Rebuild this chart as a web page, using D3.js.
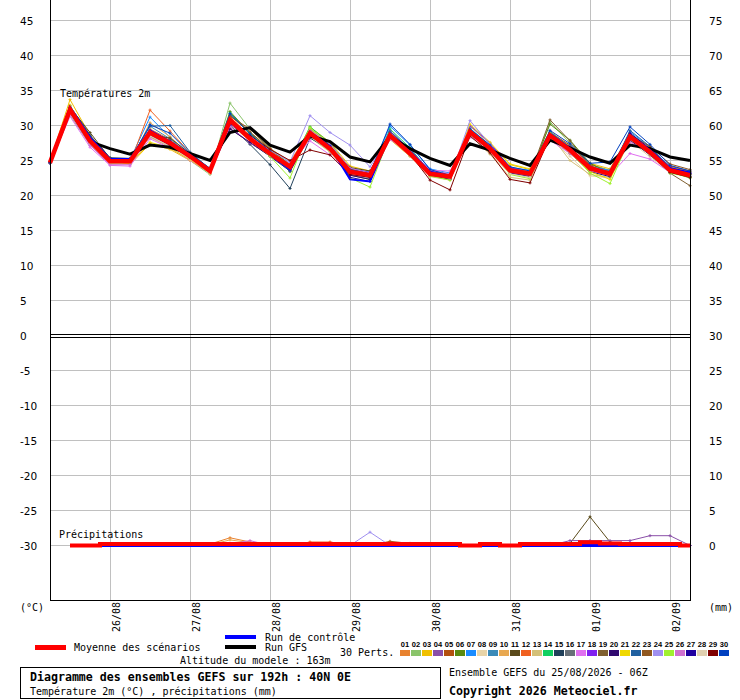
<html>
<head>
    <title>Diagramme des ensembles GEFS - 40N 0E</title>
    <script src="https://d3js.org/d3.v7.min.js"></script>
    <style>
        body {
            margin: 0;
            background-color: white;
        }
        svg {
            display: block;
        }
        text {
            font-family: "DejaVu Sans Mono", monospace;
            font-size: 10px;
            fill: black;
        }
        .ticklabel {
            font-family: "DejaVu Sans", sans-serif;
            font-size: 10.5px;
        }
    </style>
</head>
<body>
    <svg id="chart" width="740" height="700"></svg>

    <script>
        // time steps (hours since 25/08 06Z)
        const hours = [0, 6, 12, 18, 24, 30, 36, 42, 48, 54, 60, 66, 72, 78, 84, 90, 96,
            102, 108, 114, 120, 126, 132, 138, 144, 150, 156, 162, 168, 174, 180, 186, 192];

        const dateLabels = ["26/08", "27/08", "28/08", "29/08", "30/08", "31/08", "01/09", "02/09"];
        const dateHours = [18, 42, 66, 90, 114, 138, 162, 186];

        const leftTicks = [45, 40, 35, 30, 25, 20, 15, 10, 5, 0, -5, -10, -15, -20, -25, -30];
        const rightTicks = [75, 70, 65, 60, 55, 50, 45, 40, 35, 30, 25, 20, 15, 10, 5, 0];

        const pertNames = ["01", "02", "03", "04", "05", "06", "07", "08", "09", "10",
            "11", "12", "13", "14", "15", "16", "17", "18", "19", "20",
            "21", "22", "23", "24", "25", "26", "27", "28", "29", "30"];
        const pertColors = ["#e8822f", "#8ac46a", "#f0c000", "#8a4fa8", "#b3500f", "#5a8a10", "#1a8cff", "#e8d4a8", "#3a8ab8", "#e8a850",
            "#5a4a1a", "#f06020", "#d4c078", "#10d060", "#20405a", "#687078", "#e070f0", "#8020f0", "#806030", "#300870",
            "#f0d800", "#2060a0", "#905820", "#a090f0", "#a0f030", "#d070d0", "#2000a0", "#e0d0b0", "#800000", "#0040c0"];

        // 2m temperature (°C), one row per perturbation
        const pertTemps = [
            [24.7,32.0,28.5,25.2,24.8,29.5,28.0,25.3,23.2,31.2,28.6,26.4,24.3,29.4,27.1,23.8,23.2,28.9,26.3,23.4,22.9,29.3,26.9,23.8,23.4,28.9,26.8,24.2,23.4,28.6,26.5,23.9,23.0],
            [24.6,31.5,27.2,24.6,24.6,28.6,27.0,25.0,23.0,33.2,29.5,26.8,24.6,28.4,26.3,23.0,22.5,28.2,25.7,22.8,22.4,28.8,26.3,23.2,22.6,30.5,27.5,24.5,23.6,28.0,25.8,23.4,22.6],
            [24.8,33.7,28.6,25.1,24.4,27.4,26.6,25.0,23.3,30.2,27.8,25.7,23.8,29.8,27.6,24.2,23.5,28.0,25.6,22.9,22.4,29.9,27.4,24.4,23.7,29.2,27.0,24.6,23.8,28.9,26.7,24.1,23.4],
            [24.7,32.4,28.0,25.0,24.9,28.8,27.3,25.5,23.6,30.4,28.2,26.2,24.5,28.6,26.5,23.2,22.7,28.9,26.4,23.5,22.9,28.7,26.4,23.3,22.8,28.3,26.0,23.6,22.9,28.1,25.9,23.3,22.7],
            [24.6,32.1,27.5,24.7,24.8,28.4,27.1,25.8,23.9,31.4,29.0,26.5,24.0,29.1,27.0,23.7,23.1,28.4,25.9,23.0,22.6,29.4,27.1,23.9,23.3,29.0,27.2,24.4,23.5,28.7,26.6,24.2,23.5],
            [24.7,31.8,27.6,24.8,25.0,28.9,27.4,25.6,23.4,32.0,28.9,26.0,23.4,28.5,26.4,22.9,22.3,29.2,26.6,23.2,22.5,29.0,26.6,23.5,23.0,30.2,27.9,24.6,23.2,28.3,26.1,23.4,22.5],
            [24.6,32.2,27.9,25.1,25.1,31.2,28.3,25.9,23.9,30.6,28.3,26.3,24.5,29.6,27.3,23.9,23.3,29.9,27.2,23.8,23.2,29.6,27.2,24.0,23.6,29.1,26.9,24.1,23.6,29.1,26.9,24.0,23.2],
            [24.7,31.6,27.7,24.5,24.5,29.2,27.7,25.4,23.1,31.0,28.4,25.9,23.9,28.7,26.6,23.5,23.2,28.8,26.1,23.3,22.8,28.6,26.0,23.1,22.6,28.1,25.6,22.8,22.5,27.8,25.5,23.3,22.8],
            [24.7,32.3,27.4,24.9,25.2,29.9,28.1,25.7,23.5,30.9,28.0,25.8,23.6,28.8,26.8,23.6,23.0,28.5,26.0,23.1,22.6,29.2,26.8,23.7,23.2,28.8,26.7,24.0,23.3,28.8,26.4,23.8,23.3],
            [24.6,32.0,28.2,25.3,24.7,30.4,28.4,25.8,23.6,30.7,28.7,26.7,24.9,29.2,26.9,23.3,22.8,28.3,25.8,23.0,22.3,28.9,26.5,23.4,22.9,28.4,26.2,23.7,22.8,28.2,26.0,23.5,22.7],
            [24.7,32.6,29.0,25.3,24.8,28.7,28.2,26.0,23.8,29.6,27.5,25.7,24.2,29.2,27.2,24.0,23.5,28.7,26.2,23.3,22.9,29.2,26.7,23.7,23.3,28.5,26.4,23.8,23.1,28.5,26.3,23.9,23.2],
            [24.8,32.2,27.9,24.9,24.6,32.2,29.2,26.1,23.3,31.1,28.5,26.4,24.4,28.5,26.5,23.3,22.8,28.7,26.2,23.4,22.9,29.1,26.9,23.9,23.4,28.8,26.7,24.1,23.3,28.4,26.2,23.6,23.0],
            [24.7,31.9,27.8,24.8,24.9,28.3,26.9,25.3,23.4,30.8,28.6,26.2,23.8,28.3,26.2,23.1,22.6,28.1,25.6,22.7,22.2,28.6,25.9,22.6,22.2,28.7,25.0,23.0,22.6,28.3,26.1,23.7,23.1],
            [24.6,32.5,28.3,25.0,25.0,29.1,27.6,25.6,23.6,31.8,28.9,26.3,24.2,29.8,27.5,23.8,22.9,29.5,26.8,23.4,22.8,29.4,27.0,23.8,23.3,28.9,26.9,24.0,23.1,28.6,26.4,23.5,22.8],
            [24.7,32.8,28.6,25.4,25.3,28.9,27.6,25.9,23.7,30.0,27.3,24.4,21.0,28.2,26.6,23.4,22.6,28.9,26.3,23.2,22.6,28.9,26.6,23.4,22.9,28.5,26.3,23.8,23.2,28.3,26.0,23.6,23.0],
            [24.7,32.2,27.7,24.9,24.8,28.8,27.3,25.4,23.4,30.5,28.1,25.9,23.9,28.8,26.8,23.4,22.8,28.4,25.8,23.0,22.5,29.0,26.8,23.6,23.0,28.6,26.6,23.8,23.0,28.6,26.4,23.7,23.0],
            [24.6,31.3,26.9,24.3,24.2,28.1,26.8,25.0,23.2,29.8,27.5,25.8,24.7,27.8,25.8,22.9,22.6,28.0,26.2,23.6,23.5,28.3,27.0,25.2,24.2,27.9,26.0,23.5,22.9,26.0,25.2,23.3,22.9],
            [24.7,32.4,28.1,25.1,25.0,28.9,27.4,25.7,23.7,30.2,28.0,26.1,24.3,29.1,27.0,23.8,23.3,29.2,26.6,23.5,22.7,30.0,27.5,24.0,23.2,28.9,26.9,24.2,23.3,28.8,26.6,24.0,23.2],
            [24.7,32.1,28.4,25.2,25.0,28.6,27.1,25.5,23.5,31.5,29.1,26.6,24.4,29.3,27.1,23.8,23.2,28.6,26.1,23.2,22.8,29.2,26.8,23.6,23.0,30.8,27.8,24.3,23.0,28.5,26.3,23.2,21.4],
            [24.7,32.3,27.6,25.0,25.0,28.8,27.2,25.5,23.5,29.5,27.6,25.6,23.5,28.6,26.7,22.9,22.3,28.3,25.9,22.9,22.3,29.0,26.4,23.2,22.7,28.4,26.1,23.4,22.7,27.9,25.8,23.3,22.7],
            [24.8,32.9,28.0,24.9,24.6,27.6,26.8,25.1,23.2,30.6,28.4,26.3,24.4,29.6,27.4,23.5,22.9,28.4,25.9,23.1,22.6,30.2,27.6,24.5,23.8,28.2,26.1,23.4,22.3,28.1,25.9,23.5,23.0],
            [24.7,32.5,28.2,25.2,25.2,29.9,30.0,26.2,23.8,30.9,28.2,25.8,23.5,29.0,26.9,23.6,22.9,29.1,26.5,23.3,22.8,29.2,26.8,23.6,23.0,29.0,26.9,24.0,23.2,29.3,27.0,23.9,23.1],
            [24.7,31.9,27.6,24.8,24.7,28.7,27.3,25.5,23.6,31.3,29.5,26.7,24.3,28.8,26.8,23.6,23.0,28.6,26.1,23.3,22.8,29.1,26.7,23.5,22.9,28.6,26.6,23.9,23.4,28.7,27.0,24.5,23.7],
            [24.6,32.0,27.9,25.0,24.8,29.0,27.6,25.7,23.7,30.3,28.5,26.5,24.8,31.4,29.0,27.2,24.1,28.5,26.2,23.1,22.5,30.7,27.3,23.7,23.0,28.6,26.5,23.8,23.0,28.5,26.2,23.6,22.9],
            [24.7,32.1,27.8,24.7,24.7,28.9,27.3,25.4,23.4,31.0,28.0,25.6,22.5,29.7,26.8,22.5,21.2,28.6,26.0,22.8,22.2,28.9,26.5,23.0,22.4,28.9,26.2,23.2,21.7,28.2,26.0,23.2,22.6],
            [24.7,31.7,27.2,24.4,24.4,28.5,27.1,25.3,23.4,30.6,28.1,25.9,23.8,29.3,27.4,23.9,23.2,28.7,26.3,23.6,23.1,28.8,26.3,23.4,22.9,28.3,26.1,23.6,23.0,27.6,26.3,23.9,23.2],
            [24.7,32.3,27.9,25.0,25.1,29.3,27.8,25.8,23.6,30.7,28.3,26.0,23.7,28.9,26.6,22.6,22.0,28.7,26.0,23.0,22.5,29.3,26.9,23.5,22.9,28.7,26.6,23.9,23.3,28.9,26.7,23.9,23.1],
            [24.7,31.8,27.5,24.7,24.8,28.5,27.0,25.2,23.3,30.5,28.0,25.8,23.9,28.4,26.4,23.2,22.7,28.3,25.9,23.0,22.5,28.5,26.2,23.1,22.6,28.3,26.3,23.7,22.9,28.1,25.9,23.4,22.8],
            [24.7,32.0,28.1,25.1,25.0,28.8,27.2,25.4,23.5,30.3,28.6,26.6,25.0,26.5,25.8,23.0,22.6,28.4,25.9,22.2,20.8,28.5,26.1,22.3,21.8,28.4,26.4,23.7,22.9,28.3,26.0,23.3,22.6],
            [24.7,32.6,28.4,25.2,25.0,30.1,28.9,26.0,23.8,31.7,28.8,26.3,24.2,29.1,27.1,23.7,23.1,30.2,27.3,23.7,22.9,29.5,27.2,24.1,23.5,29.3,27.4,24.6,24.8,29.8,27.3,24.3,23.5]
        ];

        const controlTemps = [24.7,32.6,28.3,25.2,25.2,29.3,27.7,25.8,23.6,30.6,28.0,25.9,23.7,29.0,27.0,22.3,22.0,28.6,26.2,23.4,22.8,29.1,26.7,23.5,23.0,28.7,26.7,24.0,23.2,28.4,26.5,23.9,23.3];
        const gfsTemps = [24.7,32.2,27.7,26.7,25.9,27.2,26.9,26.0,25.0,29.0,29.7,27.2,26.2,28.5,27.7,25.5,24.8,28.4,26.7,25.3,24.3,27.4,26.5,25.3,24.3,27.9,26.8,25.5,24.6,27.2,26.7,25.5,25.0];
        const meanTemps = [24.7,32.3,27.8,24.9,24.9,29.0,27.5,25.6,23.5,30.8,28.1,26.0,24.1,28.9,26.7,23.4,22.9,28.6,26.0,23.1,22.7,29.1,26.7,23.6,23.1,28.6,26.5,23.9,23.1,28.4,26.2,23.6,22.9];

        // precipitation (mm)
        const meanPrecip = [null,0,0,0.2,0.2,0.2,0.2,0.2,0.2,0.2,0.2,0.2,0.2,0.2,0.2,0.2,0.2,0.2,0.2,0.2,0.2,0,0.2,0,0.2,0.2,0.2,0.45,0.3,0.2,0.2,0.2,0];
        const controlPrecip = [null,null,0,0,0,0,0,0,0,0,0,0,0,0,0,0,0,0,0,0,0,0,0,0,0,0,0,0,0,0,0,0,0];
        const gfsPrecip = [null,null,0,0,0,0,0,0,0,0,0,0,0,0,0,0,0,0,0,0,0,0,0,0,0,0,0,0,0,0,0,0,0];
        // only the perturbations that show rain; the others stay at 0 under the mean
        const wetPerts = [1, 10, 26, 12, 5, 24, 11, 4, 13, 18];
        const wetPrecip = [
            [null,null,0,0,0,0,0,0,0.2,1.1,0.5,0,0,0,0,0,0,0,0,0,0,0,0,0,0,0,0,0,0,0,0,0,0],
            [null,null,0,0,0,0,0,0,0.1,0.8,0.4,0,0,0,0,0,0,0,0,0,0,0,0,0,0,0.3,0,0,0,0,0,0,0],
            [null,null,0,0,0,0,0,0,0,0.2,0.7,0,0,0,0,0,0,0,0,0,0,0,0,0,0,0,0,0,0,0,0,0,0],
            [null,null,0,0,0,0,0,0,0,0,0,0,0,0.5,0.5,0.1,0,0,0,0,0,0,0,0,0,0,0,0,0,0,0,0,0],
            [null,null,0,0,0,0,0,0,0,0,0,0,0,0,0,0,0,0.6,0.3,0,0,0,0,0,0,0,0,0,0,0,0,0,0],
            [null,null,0,0,0,0,0,0,0,0,0,0,0,0,0,0,1.9,0,0,0,0,0,0,0,0,0,0,0,0,0,0,0,0],
            [null,null,0,0,0,0,0,0,0,0,0,0,0,0,0,0,0,0,0,0,0,0,0,0,0,0,0.3,4.1,0.5,0,0,0,0],
            [null,null,0,0,0,0,0,0,0,0,0,0,0,0,0,0,0,0,0,0,0,0,0,0,0,0,0.7,0.7,0.7,0.7,1.4,1.4,0],
            [null,null,0,0,0,0,0,0,0,0,0,0,0,0,0,0,0,0,0,0,0,0,0,0,0,0,0,0,0.3,0.2,0,0,0],
            [null,null,0,0,0,0,0,0,0,0,0,0,0,0,0,0,0,0,0,0,0,0,0,0,0,0,0,0,0,0.4,0,0,0]
        ];

        const svg = d3.select("#chart");

        const x = d3.scaleLinear().domain([0, 192]).range([50, 690]);
        const yT = d3.scaleLinear().domain([-30, 45]).range([545.5, 20.5]);
        const yP = d3.scaleLinear().domain([0, 30]).range([545.5, 335.5]);

        // grid
        const grid = svg.append("g").attr("stroke", "#c0c0c0").attr("stroke-width", 1);
        grid.selectAll(".hgrid")
            .data(leftTicks.filter(d => d !== 0))
            .enter().append("line")
            .attr("x1", 50).attr("x2", 690)
            .attr("y1", d => yT(d)).attr("y2", d => yT(d));
        grid.selectAll(".vgrid")
            .data(dateHours)
            .enter().append("line")
            .attr("x1", d => Math.round(x(d)) + 0.5).attr("x2", d => Math.round(x(d)) + 0.5)
            .attr("y1", 0).attr("y2", 600);

        // panel labels
        svg.append("text").attr("x", 60).attr("y", 97).text("Températures 2m");
        svg.append("text").attr("x", 59).attr("y", 538).text("Précipitations");

        const lineT = d3.line()
            .defined(d => d != null)
            .x((d, i) => x(hours[i]))
            .y(d => yT(d));
        const lineP = d3.line()
            .defined(d => d != null)
            .x((d, i) => x(hours[i]))
            .y(d => yP(d));
        const stepP = d3.line()
            .defined(d => d != null)
            .x((d, i) => x(hours[i]))
            .y(d => yP(d))
            .curve(d3.curveStep);

        // small "+" markers on the perturbation points
        function crosses(g, values, yScale, color) {
            const pts = values.map((v, i) => [i, v]).filter(p => p[1] != null);
            g.selectAll(null)
                .data(pts)
                .enter().append("path")
                .attr("d", p => {
                    const px = x(hours[p[0]]), py = yScale(p[1]);
                    return "M" + (px - 1.5) + "," + py + "h3M" + px + "," + (py - 1.5) + "v3";
                })
                .attr("stroke", color)
                .attr("stroke-width", 1)
                .attr("fill", "none");
        }

        // temperature perturbations
        const pertG = svg.append("g");
        pertTemps.forEach((vals, k) => {
            pertG.append("path")
                .attr("d", lineT(vals))
                .attr("fill", "none")
                .attr("stroke", pertColors[k])
                .attr("stroke-width", 1);
            crosses(pertG, vals, yT, pertColors[k]);
        });

        // precipitation perturbations
        wetPerts.forEach((p, k) => {
            pertG.append("path")
                .attr("d", lineP(wetPrecip[k]))
                .attr("fill", "none")
                .attr("stroke", pertColors[p - 1])
                .attr("stroke-width", 1);
            crosses(pertG, wetPrecip[k], yP, pertColors[p - 1]);
        });

        // GFS, control, mean
        svg.append("path").attr("d", lineT(gfsTemps))
            .attr("fill", "none").attr("stroke", "black").attr("stroke-width", 3);
        svg.append("path").attr("d", stepP(gfsPrecip))
            .attr("fill", "none").attr("stroke", "black").attr("stroke-width", 3);
        svg.append("path").attr("d", lineT(controlTemps))
            .attr("fill", "none").attr("stroke", "#0000ff").attr("stroke-width", 2);
        svg.append("path").attr("d", stepP(controlPrecip))
            .attr("fill", "none").attr("stroke", "#0000ff").attr("stroke-width", 3);
        svg.append("path").attr("d", lineT(meanTemps))
            .attr("fill", "none").attr("stroke", "#ff0000").attr("stroke-width", 4.5);
        svg.append("path").attr("d", stepP(meanPrecip))
            .attr("fill", "none").attr("stroke", "#ff0000").attr("stroke-width", 4);

        // frame
        const frame = svg.append("g").attr("stroke", "black").attr("stroke-width", 1);
        frame.append("line").attr("x1", 50.5).attr("x2", 50.5).attr("y1", 0).attr("y2", 600.5);
        frame.append("line").attr("x1", 690.5).attr("x2", 690.5).attr("y1", 0).attr("y2", 600.5);
        frame.append("line").attr("x1", 50).attr("x2", 691).attr("y1", 600.5).attr("y2", 600.5);
        frame.append("line").attr("x1", 50).attr("x2", 691).attr("y1", 334.5).attr("y2", 334.5);
        frame.append("line").attr("x1", 50).attr("x2", 691).attr("y1", 337.5).attr("y2", 337.5);

        // axis labels
        svg.selectAll(".lt")
            .data(leftTicks)
            .enter().append("text")
            .attr("class", "ticklabel")
            .attr("x", 20)
            .attr("y", d => yT(d) + 4)
            .text(d => d);
        svg.selectAll(".rt")
            .data(rightTicks)
            .enter().append("text")
            .attr("class", "ticklabel")
            .attr("x", 709)
            .attr("y", (d, i) => yT(leftTicks[i]) + 4)
            .text(d => d);
        svg.append("text").attr("x", 20).attr("y", 611).text("(°C)");
        svg.append("text").attr("x", 709).attr("y", 611).text("(mm)");

        svg.selectAll(".date")
            .data(dateLabels)
            .enter().append("text")
            .attr("text-anchor", "end")
            .attr("transform", (d, i) => "translate(" + (Math.round(x(dateHours[i])) + 10) + ",602) rotate(-90)")
            .text(d => d);

        // legend
        svg.append("rect").attr("x", 35).attr("y", 645).attr("width", 31).attr("height", 5).attr("fill", "#ff0000");
        svg.append("text").attr("x", 74).attr("y", 651).text("Moyenne des scénarios");
        svg.append("rect").attr("x", 225).attr("y", 635).attr("width", 31).attr("height", 4).attr("fill", "#0000ff");
        svg.append("text").attr("x", 265).attr("y", 641).text("Run de contrôle");
        svg.append("rect").attr("x", 225).attr("y", 645).attr("width", 31).attr("height", 4).attr("fill", "black");
        svg.append("text").attr("x", 265).attr("y", 651).text("Run GFS");
        svg.append("text").attr("x", 340).attr("y", 656).text("30 Perts.");
        svg.append("text").attr("x", 180).attr("y", 664).text("Altitude du modele : 163m");

        const boxes = svg.append("g");
        boxes.selectAll("rect")
            .data(pertColors)
            .enter().append("rect")
            .attr("x", (d, i) => 400 + i * 11)
            .attr("y", 650)
            .attr("width", 10)
            .attr("height", 6)
            .attr("fill", d => d);
        boxes.selectAll("text")
            .data(pertNames)
            .enter().append("text")
            .attr("x", (d, i) => 405 + i * 11)
            .attr("y", 647)
            .attr("text-anchor", "middle")
            .style("font-family", "Liberation Sans, sans-serif")
            .style("font-weight", "bold")
            .style("font-size", "7.5px")
            .text(d => d);

        // footer
        svg.append("rect").attr("x", 20.5).attr("y", 667.5).attr("width", 420).attr("height", 31)
            .attr("fill", "none").attr("stroke", "black");
        svg.append("text").attr("x", 30).attr("y", 681)
            .style("font-weight", "bold").style("font-size", "11.6px")
            .text("Diagramme des ensembles GEFS sur 192h : 40N 0E");
        svg.append("text").attr("x", 30).attr("y", 695)
            .text("Température 2m (°C) , précipitations (mm)");
        svg.append("text").attr("x", 449).attr("y", 676)
            .text("Ensemble GEFS du 25/08/2026 - 06Z");
        svg.append("text").attr("x", 449).attr("y", 695)
            .style("font-weight", "bold").style("font-size", "11.6px")
            .text("Copyright 2026 Meteociel.fr");
    </script>
</body>
</html>
